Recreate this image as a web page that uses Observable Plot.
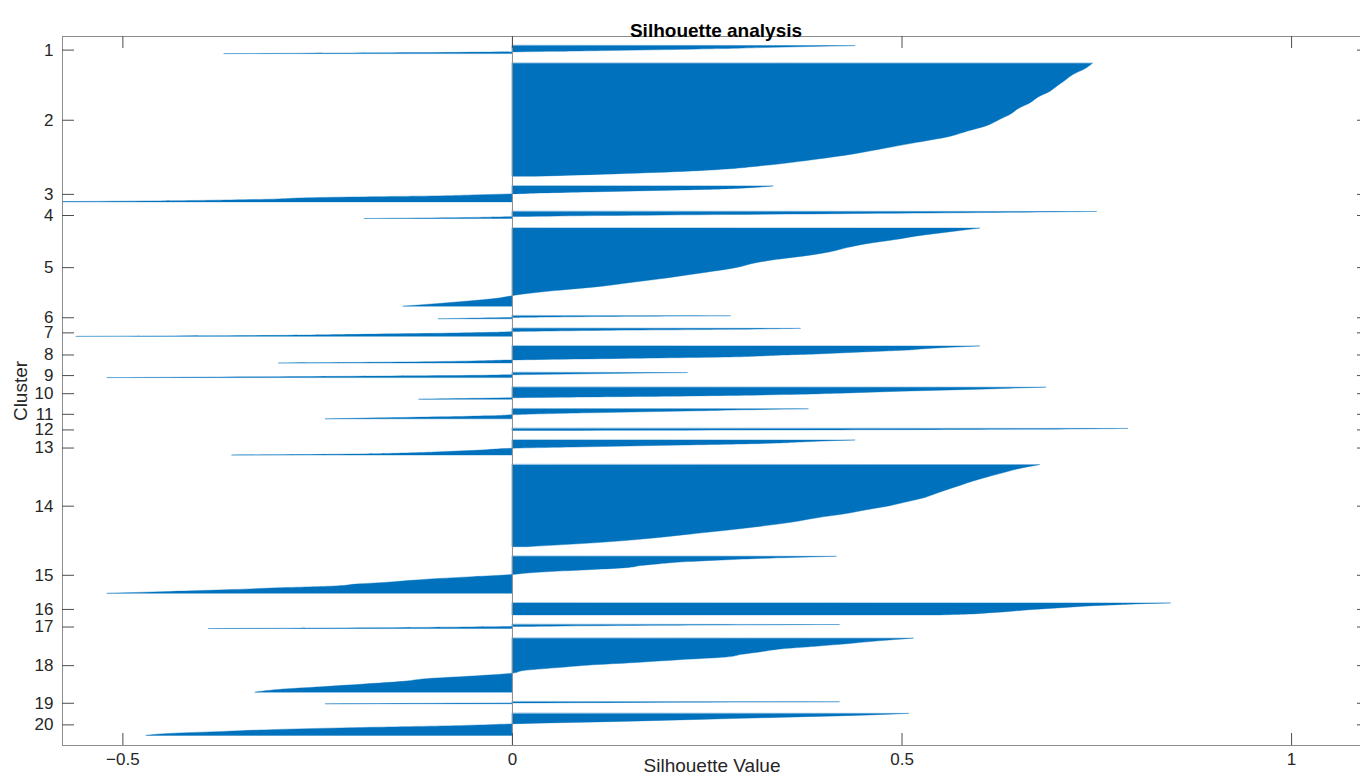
<!DOCTYPE html>
<html>
<head>
<meta charset="utf-8">
<script src="https://cdn.jsdelivr.net/npm/d3@7"></script>
<script src="https://cdn.jsdelivr.net/npm/@observablehq/plot@0.6"></script>
<style>
  html, body { margin: 0; padding: 0; background: #fff; overflow: hidden; }
  #chart svg { max-width: none !important; display: block; }
</style>
</head>
<body>
<div id="chart"></div>
<script>
// ---- data ----
const clusterLabels = ["1","2","3","4","5","6","7","8","9","10","11","12","13","14","15","16","17","18","19","20"];
// relative number of points per cluster (rows)
const clusterSizes = [8, 113, 16, 7, 78, 3, 8, 17, 5, 12, 10, 2, 15, 82, 37, 12, 4, 54, 2, 22];
// silhouette values of each cluster, sorted descending, sampled at equal rank steps
const s1  = [0.44, 0.38, 0.32, 0.27, 0.20, 0.12, 0.03, -0.12, -0.37];
const s2  = [0.745, 0.735, 0.72, 0.71, 0.70, 0.69, 0.675, 0.665, 0.65, 0.64, 0.625, 0.61, 0.585, 0.56, 0.52, 0.48, 0.44, 0.39, 0.33, 0.24, 0.03];
const s3  = [0.335, 0.32, 0.30, 0.27, 0.22, 0.16, 0.10, 0.04, 0.0, -0.05, -0.10, -0.20, -0.27, -0.30, -0.36, -0.46, -0.65];
const s4  = [0.75, 0.62, 0.45, 0.28, 0.12, 0.01, -0.06, -0.19];
const s5  = [0.60, 0.56, 0.52, 0.49, 0.455, 0.43, 0.41, 0.38, 0.34, 0.31, 0.29, 0.26, 0.225, 0.19, 0.15, 0.11, 0.055, 0.01, -0.02, -0.075, -0.14];
const s6  = [0.28, 0.08, -0.02, -0.095];
const s7  = [0.37, 0.28, 0.12, 0.02, -0.03, -0.10, -0.20, -0.30, -0.56];
const s8  = [0.60, 0.57, 0.545, 0.525, 0.51, 0.48, 0.45, 0.42, 0.39, 0.35, 0.32, 0.28, 0.19, 0.09, 0.0, -0.05, -0.14, -0.30];
const s9  = [0.225, 0.12, 0.02, -0.08, -0.27, -0.52];
const s10 = [0.685, 0.64, 0.60, 0.55, 0.50, 0.46, 0.42, 0.37, 0.30, 0.20, 0.06, -0.04, -0.12];
const s11 = [0.38, 0.30, 0.24, 0.17, 0.10, 0.04, 0.0, -0.03, -0.09, -0.17, -0.24];
const s12 = [0.79, 0.60, 0.05];
const s13 = [0.44, 0.40, 0.37, 0.34, 0.29, 0.22, 0.15, 0.08, 0.01, -0.02, -0.04, -0.07, -0.10, -0.14, -0.20, -0.36];
const s14 = [0.677, 0.65, 0.63, 0.61, 0.592, 0.576, 0.56, 0.545, 0.53, 0.508, 0.485, 0.455, 0.427, 0.39, 0.36, 0.32, 0.275, 0.225, 0.175, 0.11, 0.02];
const s15 = [0.416, 0.33, 0.27, 0.22, 0.19, 0.165, 0.15, 0.11, 0.06, 0.02, -0.005, -0.05, -0.095, -0.13, -0.16, -0.20, -0.225, -0.30, -0.36, -0.44, -0.52];
const s16 = [0.845, 0.80, 0.77, 0.74, 0.72, 0.70, 0.68, 0.66, 0.645, 0.63, 0.61, 0.59, 0.55];
const s17 = [0.42, 0.20, 0.05, -0.05, -0.18, -0.39];
const s18 = [0.515, 0.47, 0.433, 0.39, 0.345, 0.32, 0.295, 0.275, 0.215, 0.16, 0.097, 0.055, 0.015, 0.0, -0.05, -0.11, -0.14, -0.19, -0.245, -0.30, -0.33];
const s19 = [0.42, 0.17, -0.05, -0.24];
const s20 = [0.509, 0.44, 0.34, 0.24, 0.14, 0.02, -0.06, -0.19, -0.30, -0.37, -0.44, -0.47];
const xTickValues = [-0.5, 0, 0.5, 1];
const xTickLabels = ["\u22120.5", "0", "0.5", "1"];
const titleText = "Silhouette analysis";
const xLabelText = "Silhouette Value";
const yLabelText = "Cluster";

// ---- layout / build table ----
const clusterGap = 9.6;
const profiles = [s1,s2,s3,s4,s5,s6,s7,s8,s9,s10,s11,s12,s13,s14,s15,s16,s17,s18,s19,s20];
const rows = [];
const centers = [];
let offset = clusterGap;
profiles.forEach((vals, k) => {
  const size = clusterSizes[k];
  const m = vals.length;
  vals.forEach((v, i) => rows.push({cluster: clusterLabels[k], row: offset + size * i / (m - 1), value: v}));
  centers.push({y: offset + size / 2, label: clusterLabels[k]});
  offset += size + clusterGap;
});
const totalRows = offset;
const xTicks = xTickValues.map((v, i) => ({x: v, label: xTickLabels[i]}));

const W = 1381, H = 780, mL = 62, mR = 12, mT = 36, mB = 35;
const pw = W - mL - mR, ph = H - mT - mB;
const font = "'Liberation Sans', Arial, Helvetica, sans-serif";
const barColor = "#0072BD";
const tickColor = "#4d4d4d";
const frameColor = "#8c8c8c";
const textColor = "#262626";

const chart = Plot.plot({
  width: W, height: H,
  marginLeft: mL, marginRight: mR, marginTop: mT, marginBottom: mB,
  style: {fontFamily: font, background: "#fff", overflow: "visible"},
  x: {domain: [-0.5775, 1.1], axis: null},
  y: {domain: [0, totalRows], reverse: true, axis: null},
  marks: [
    Plot.areaX(rows, {y: "row", x1: 0, x2: "value", z: "cluster", fill: barColor,
      stroke: barColor, strokeWidth: 0.7, strokeOpacity: 0.55, curve: "monotone-y", clip: true}),
    Plot.ruleX([0], {stroke: frameColor, strokeWidth: 1}),
    Plot.frame({stroke: frameColor, strokeWidth: 1}),
    // x ticks bottom & top (inward)
    Plot.ruleX(xTicks, {x: "x", insetTop: ph - 12, stroke: tickColor}),
    Plot.ruleX(xTicks, {x: "x", insetBottom: ph - 12, stroke: tickColor}),
    // y ticks left & right (inward)
    Plot.ruleY(centers, {y: "y", insetRight: pw - 12, stroke: tickColor}),
    Plot.ruleY(centers, {y: "y", insetLeft: pw - 12, stroke: tickColor}),
    // tick labels
    Plot.text(xTicks, {x: "x", text: "label", frameAnchor: "bottom", dy: 19, fontSize: 17, fill: textColor}),
    Plot.text(centers, {y: "y", text: "label", frameAnchor: "left", dx: -9, textAnchor: "end", fontSize: 17, fill: textColor}),
    // titles
    Plot.text([titleText], {text: d => d, frameAnchor: "top", dy: -13, fontSize: 19, fontWeight: "bold", fill: "#000"}),
    Plot.text([xLabelText], {text: d => d, frameAnchor: "bottom", dx: -4, dy: 26, fontSize: 19, fill: textColor}),
    Plot.text([yLabelText], {text: d => d, frameAnchor: "left", textAnchor: "middle", dx: -42, rotate: -90, fontSize: 19, fill: textColor})
  ]
});
chart.style.maxWidth = "none";
document.getElementById("chart").appendChild(chart);
</script>
</body>
</html>
